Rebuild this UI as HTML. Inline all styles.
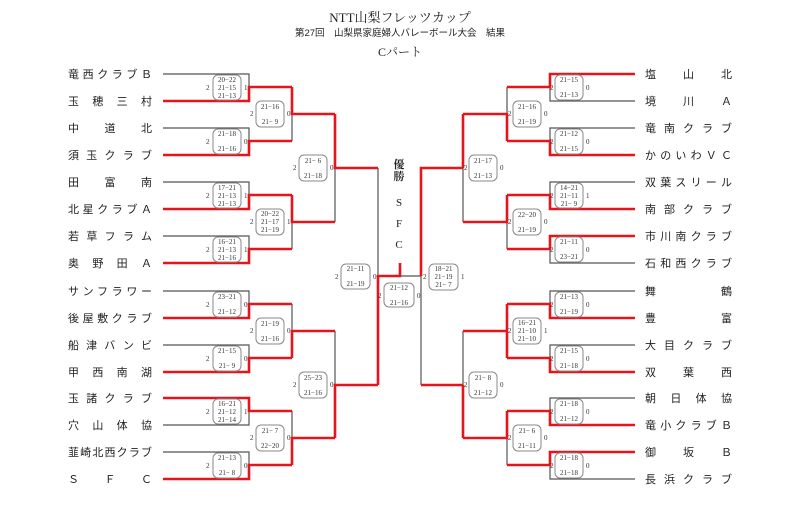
<!DOCTYPE html>
<html><head><meta charset="utf-8"><style>
html,body{margin:0;padding:0;background:#fff;}
svg{display:block;}
.n{font-family:"Liberation Sans","Noto Sans CJK JP",sans-serif;font-size:11px;fill:#222;}
.s{font-family:"Liberation Serif","Noto Serif CJK SC",serif;font-size:7px;fill:#333;text-anchor:middle;}
.d{font-family:"Liberation Serif",serif;font-size:7px;fill:#333;}
.r{stroke:#e8141c;stroke-width:2.6;fill:none;}
.g{stroke:#555;stroke-width:1.2;fill:none;}
.b{fill:#fff;stroke:#888;stroke-width:1;}
</style></head><body>
<svg width="800" height="523" viewBox="0 0 800 523" xmlns="http://www.w3.org/2000/svg">
<text x="400" y="22" text-anchor="middle" style="font-family:'Liberation Serif','Noto Serif CJK SC',serif;font-size:13px;fill:#222">NTT山梨フレッツカップ</text>
<text x="400" y="36" text-anchor="middle" style="font-family:'Liberation Sans','Noto Sans CJK JP',sans-serif;font-size:9.5px;fill:#222">第27回　山梨県家庭婦人バレーボール大会　結果</text>
<text x="400" y="56" text-anchor="middle" style="font-family:'Liberation Serif','Noto Serif CJK SC',serif;font-size:12px;fill:#222">Cパート</text>

<!-- left names -->
<g class="n">
<text x="68" y="78" textLength="84" lengthAdjust="spacing">竜西クラブＢ</text>
<text x="68" y="105" textLength="84" lengthAdjust="spacing">玉穂三村</text>
<text x="68" y="132" textLength="84" lengthAdjust="spacing">中道北</text>
<text x="68" y="159" textLength="84" lengthAdjust="spacing">須玉クラブ</text>
<text x="68" y="186" textLength="84" lengthAdjust="spacing">田富南</text>
<text x="68" y="213" textLength="84" lengthAdjust="spacing">北星クラブＡ</text>
<text x="68" y="240" textLength="84" lengthAdjust="spacing">若草フラム</text>
<text x="68" y="267" textLength="84" lengthAdjust="spacing">奥野田Ａ</text>
<text x="68" y="295" textLength="84" lengthAdjust="spacing">サンフラワー</text>
<text x="68" y="322" textLength="84" lengthAdjust="spacing">後屋敷クラブ</text>
<text x="68" y="349" textLength="84" lengthAdjust="spacing">船津バンビ</text>
<text x="68" y="376" textLength="84" lengthAdjust="spacing">甲西南湖</text>
<text x="68" y="402" textLength="84" lengthAdjust="spacing">玉諸クラブ</text>
<text x="68" y="429" textLength="84" lengthAdjust="spacing">穴山体協</text>
<text x="68" y="456" textLength="84" lengthAdjust="spacing">韮崎北西クラブ</text>
<text x="68" y="483" textLength="84" lengthAdjust="spacing">ＳＦＣ</text>
</g>
<!-- right names -->
<g class="n">
<text x="645" y="78" textLength="87" lengthAdjust="spacing">塩山北</text>
<text x="645" y="105" textLength="87" lengthAdjust="spacing">境川Ａ</text>
<text x="645" y="132" textLength="87" lengthAdjust="spacing">竜南クラブ</text>
<text x="645" y="159" textLength="87" lengthAdjust="spacing">かのいわＶＣ</text>
<text x="645" y="186" textLength="87" lengthAdjust="spacing">双葉スリール</text>
<text x="645" y="213" textLength="87" lengthAdjust="spacing">南部クラブ</text>
<text x="645" y="240" textLength="87" lengthAdjust="spacing">市川南クラブ</text>
<text x="645" y="267" textLength="87" lengthAdjust="spacing">石和西クラブ</text>
<text x="645" y="295" textLength="87" lengthAdjust="spacing">舞鶴</text>
<text x="645" y="322" textLength="87" lengthAdjust="spacing">豊富</text>
<text x="645" y="349" textLength="87" lengthAdjust="spacing">大目クラブ</text>
<text x="645" y="376" textLength="87" lengthAdjust="spacing">双葉西</text>
<text x="645" y="402" textLength="87" lengthAdjust="spacing">朝日体協</text>
<text x="645" y="429" textLength="87" lengthAdjust="spacing">竜小クラブＢ</text>
<text x="645" y="456" textLength="87" lengthAdjust="spacing">御坂Ｂ</text>
<text x="645" y="483" textLength="87" lengthAdjust="spacing">長浜クラブ</text>
</g>

<!-- LEFT gray lines -->
<path class="g" d="M163 74H249V87 M163 128H249V141 M163 182H249V195 M163 236H249V249 M163 291H249V304 M163 345H249V358 M163 425H249V411 M163 452H249V465
M292 114V141 M292 222V249 M292 304V331 M292 411V438
M335 168V222 M335 331V385 M378 168V276"/>
<!-- LEFT red lines -->
<path class="r" d="M163 101H249V87H292 M163 155H249V141H292 M163 209H249V195H292 M163 263H249V249H292
M163 318H249V304H292 M163 372H249V358H292 M163 398H249V411H292 M163 479H249V465H292
M292 87V114H335 M292 141 M292 195V222H335 M292 358V331H335 M292 465V438H335
M335 114V168H378 M335 222 M335 438V385H378 M378 385V276H400V263"/>
<!-- center -->
<path class="g" d="M400 276H421V385"/>
<path class="r" d="M421 276V168H463 M421 385H463"/>
<!-- RIGHT gray -->
<path class="g" d="M635 101H550V87 M635 128H550V141 M635 182H550V195 M635 263H550V249 M635 291H550V304 M635 345H550V358 M635 398H550V411 M635 479H550V465
M507 87V114 M507 222V249 M507 438V465
M463 168V222 M463 331V385"/>
<path class="r" d="M635 74H550V87H507 M635 155H550V141H507 M635 209H550V195H507 M635 236H550V249H507
M635 318H550V304H507 M635 372H550V358H507 M635 425H550V411H507 M635 452H550V465H507
M507 141V114H463 M507 195V222H463 M507 304V358 M507 331H463 M507 411V438H463
M463 114V168 M463 438V385"/>

<!-- center text -->
<g style="font-family:'Liberation Serif','Noto Serif CJK SC',serif;font-size:11px;fill:#222" text-anchor="middle">
<text x="399" y="168" style="font-weight:bold">優</text>
<text x="399" y="180" style="font-weight:bold">勝</text>
<text x="399" y="206">S</text>
<text x="399" y="227">F</text>
<text x="399" y="248">C</text>
</g>

<!-- score boxes: left R1 (xl=213) -->
<g>
<rect class="b" x="213" y="75" width="28" height="25" rx="5"/><text class="d" x="206" y="90">2</text><text class="d" x="244" y="90">1</text>
<text class="s" x="227" y="82">20−22</text><text class="s" x="227" y="90">21−15</text><text class="s" x="227" y="98">21−13</text>

<rect class="b" x="213" y="129" width="28" height="25" rx="5"/><text class="d" x="206" y="144">2</text><text class="d" x="244" y="144">0</text>
<text class="s" x="227" y="136">21−18</text><text class="s" x="227" y="151">21−16</text>

<rect class="b" x="213" y="183" width="28" height="25" rx="5"/><text class="d" x="206" y="198">2</text><text class="d" x="244" y="198">1</text>
<text class="s" x="227" y="190">17−21</text><text class="s" x="227" y="198">21−13</text><text class="s" x="227" y="206">21−13</text>

<rect class="b" x="213" y="237" width="28" height="25" rx="5"/><text class="d" x="206" y="252">2</text><text class="d" x="244" y="252">1</text>
<text class="s" x="227" y="244">16−21</text><text class="s" x="227" y="252">21−13</text><text class="s" x="227" y="260">21−16</text>

<rect class="b" x="213" y="292" width="28" height="25" rx="5"/><text class="d" x="206" y="307">2</text><text class="d" x="244" y="307">0</text>
<text class="s" x="227" y="299">23−21</text><text class="s" x="227" y="314">21−12</text>

<rect class="b" x="213" y="346" width="28" height="25" rx="5"/><text class="d" x="206" y="361">2</text><text class="d" x="244" y="361">0</text>
<text class="s" x="227" y="353">21−15</text><text class="s" x="227" y="368">21−  9</text>

<rect class="b" x="213" y="399" width="28" height="25" rx="5"/><text class="d" x="206" y="414">2</text><text class="d" x="244" y="414">1</text>
<text class="s" x="227" y="406">16−21</text><text class="s" x="227" y="414">21−12</text><text class="s" x="227" y="422">21−14</text>

<rect class="b" x="213" y="453" width="28" height="25" rx="5"/><text class="d" x="206" y="468">2</text><text class="d" x="244" y="468">0</text>
<text class="s" x="227" y="460">21−13</text><text class="s" x="227" y="475">21−  8</text>
</g>
<!-- left R2 xl=256 -->
<g>
<rect class="b" x="256" y="101" width="28" height="26" rx="5"/><text class="d" x="250" y="116">2</text><text class="d" x="287" y="116">0</text>
<text class="s" x="270" y="109">21−16</text><text class="s" x="270" y="124">21−  9</text>
<rect class="b" x="256" y="209" width="28" height="26" rx="5"/><text class="d" x="250" y="224">2</text><text class="d" x="287" y="224">1</text>
<text class="s" x="270" y="216">20−22</text><text class="s" x="270" y="224">21−17</text><text class="s" x="270" y="232">21−19</text>
<rect class="b" x="256" y="318" width="28" height="26" rx="5"/><text class="d" x="250" y="333">2</text><text class="d" x="287" y="333">0</text>
<text class="s" x="270" y="326">21−19</text><text class="s" x="270" y="341">21−16</text>
<rect class="b" x="256" y="425" width="28" height="26" rx="5"/><text class="d" x="250" y="440">2</text><text class="d" x="287" y="440">0</text>
<text class="s" x="270" y="433">21−  7</text><text class="s" x="270" y="448">22−20</text>
</g>
<!-- left R3 xl=299 -->
<g>
<rect class="b" x="299" y="155" width="28" height="26" rx="5"/><text class="d" x="293" y="170">2</text><text class="d" x="330" y="170">0</text>
<text class="s" x="313" y="163">21−  6</text><text class="s" x="313" y="178">21−18</text>
<rect class="b" x="299" y="372" width="28" height="26" rx="5"/><text class="d" x="293" y="387">2</text><text class="d" x="330" y="387">0</text>
<text class="s" x="313" y="380">25−23</text><text class="s" x="313" y="395">21−16</text>
</g>
<!-- semis & final -->
<g>
<rect class="b" x="341" y="264" width="29" height="25" rx="5"/><text class="d" x="335" y="279">2</text><text class="d" x="373" y="279">0</text>
<text class="s" x="355.5" y="271">21−11</text><text class="s" x="355.5" y="286">21−19</text>
<rect class="b" x="384" y="283" width="30" height="24" rx="5"/><text class="d" x="378" y="298">2</text><text class="d" x="417" y="298">0</text>
<text class="s" x="399" y="290">21−12</text><text class="s" x="399" y="305">21−16</text>
<rect class="b" x="429" y="264" width="29" height="26" rx="5"/><text class="d" x="423" y="279">2</text><text class="d" x="461" y="279">1</text>
<text class="s" x="443.5" y="271">18−21</text><text class="s" x="443.5" y="279">21−19</text><text class="s" x="443.5" y="287">21−  7</text>
</g>
<!-- right R3 xl=469 -->
<g>
<rect class="b" x="469" y="155" width="28" height="26" rx="5"/><text class="d" x="464" y="170">2</text><text class="d" x="500" y="170">0</text>
<text class="s" x="483" y="163">21−17</text><text class="s" x="483" y="178">21−13</text>
<rect class="b" x="469" y="372" width="28" height="26" rx="5"/><text class="d" x="464" y="387">2</text><text class="d" x="500" y="387">0</text>
<text class="s" x="483" y="380">21−  8</text><text class="s" x="483" y="395">21−12</text>
</g>
<!-- right R2 xl=513 -->
<g>
<rect class="b" x="513" y="101" width="28" height="26" rx="5"/><text class="d" x="508" y="116">2</text><text class="d" x="544" y="116">0</text>
<text class="s" x="527" y="109">21−16</text><text class="s" x="527" y="124">21−19</text>
<rect class="b" x="513" y="209" width="28" height="26" rx="5"/><text class="d" x="508" y="224">2</text><text class="d" x="544" y="224">0</text>
<text class="s" x="527" y="217">22−20</text><text class="s" x="527" y="232">21−19</text>
<rect class="b" x="513" y="318" width="28" height="26" rx="5"/><text class="d" x="508" y="333">2</text><text class="d" x="544" y="333">1</text>
<text class="s" x="527" y="325">16−21</text><text class="s" x="527" y="333">21−10</text><text class="s" x="527" y="341">21−10</text>
<rect class="b" x="513" y="425" width="28" height="26" rx="5"/><text class="d" x="508" y="440">2</text><text class="d" x="544" y="440">0</text>
<text class="s" x="527" y="433">21−  6</text><text class="s" x="527" y="448">21−11</text>
</g>
<!-- right R1 xl=555 -->
<g>
<rect class="b" x="555" y="75" width="28" height="25" rx="5"/><text class="d" x="550" y="90">2</text><text class="d" x="586" y="90">0</text>
<text class="s" x="569" y="82">21−15</text><text class="s" x="569" y="97">21−13</text>
<rect class="b" x="555" y="129" width="28" height="25" rx="5"/><text class="d" x="550" y="144">2</text><text class="d" x="586" y="144">0</text>
<text class="s" x="569" y="136">21−12</text><text class="s" x="569" y="151">21−15</text>
<rect class="b" x="555" y="183" width="28" height="25" rx="5"/><text class="d" x="550" y="198">2</text><text class="d" x="586" y="198">1</text>
<text class="s" x="569" y="190">14−21</text><text class="s" x="569" y="198">21−11</text><text class="s" x="569" y="206">21−  9</text>
<rect class="b" x="555" y="237" width="28" height="25" rx="5"/><text class="d" x="550" y="252">2</text><text class="d" x="586" y="252">0</text>
<text class="s" x="569" y="244">21−11</text><text class="s" x="569" y="259">23−21</text>
<rect class="b" x="555" y="292" width="28" height="25" rx="5"/><text class="d" x="550" y="307">2</text><text class="d" x="586" y="307">0</text>
<text class="s" x="569" y="299">21−13</text><text class="s" x="569" y="314">21−19</text>
<rect class="b" x="555" y="346" width="28" height="25" rx="5"/><text class="d" x="550" y="361">2</text><text class="d" x="586" y="361">0</text>
<text class="s" x="569" y="353">21−15</text><text class="s" x="569" y="368">21−18</text>
<rect class="b" x="555" y="399" width="28" height="25" rx="5"/><text class="d" x="550" y="414">2</text><text class="d" x="586" y="414">0</text>
<text class="s" x="569" y="406">21−18</text><text class="s" x="569" y="421">21−12</text>
<rect class="b" x="555" y="453" width="28" height="25" rx="5"/><text class="d" x="550" y="468">2</text><text class="d" x="586" y="468">0</text>
<text class="s" x="569" y="460">21−18</text><text class="s" x="569" y="475">21−18</text>
</g>
</svg>
</body></html>
